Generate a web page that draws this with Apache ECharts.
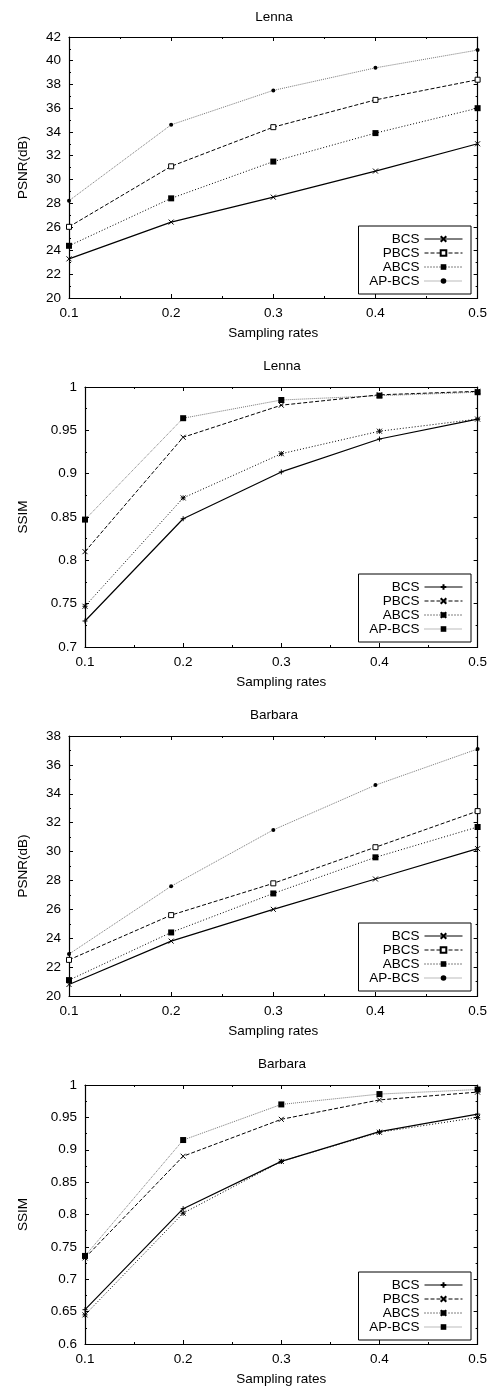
<!DOCTYPE html>
<html>
<head>
<meta charset="utf-8">
<script src="https://cdn.jsdelivr.net/npm/echarts@6/dist/echarts.min.js"></script>
<style>
html,body{margin:0;padding:0;background:#fff;}
#c{width:490px;height:1387px;}
</style>
</head>
<body>
<div id="c"></div>
<script>
// ---- data ----
const rates = [0.1, 0.2, 0.3, 0.4, 0.5];
const seriesNames = ['BCS', 'PBCS', 'ABCS', 'AP-BCS'];
const panelTitles = ['Lenna', 'Lenna', 'Barbara', 'Barbara'];
const yAxisNames = ['PSNR(dB)', 'SSIM', 'PSNR(dB)', 'SSIM'];
const xAxisName = 'Sampling rates';

const lennaPsnrBCS   = [23.3, 26.4, 28.5, 30.7, 33.0];
const lennaPsnrPBCS  = [26.0, 31.1, 34.4, 36.7, 38.4];
const lennaPsnrABCS  = [24.4, 28.4, 31.5, 33.9, 36.0];
const lennaPsnrAPBCS = [28.2, 34.6, 37.5, 39.4, 40.9];

const lennaSsimBCS   = [0.730, 0.848, 0.902, 0.940, 0.963];
const lennaSsimPBCS  = [0.810, 0.942, 0.979, 0.991, 0.995];
const lennaSsimABCS  = [0.747, 0.872, 0.923, 0.949, 0.963];
const lennaSsimAPBCS = [0.847, 0.964, 0.985, 0.990, 0.994];

const barbaraPsnrBCS   = [20.8, 23.8, 26.0, 28.1, 30.2];
const barbaraPsnrPBCS  = [22.5, 25.6, 27.8, 30.3, 32.8];
const barbaraPsnrABCS  = [21.1, 24.4, 27.1, 29.6, 31.7];
const barbaraPsnrAPBCS = [22.9, 27.6, 31.5, 34.6, 37.1];

const barbaraSsimBCS   = [0.653, 0.809, 0.882, 0.928, 0.955];
const barbaraSsimPBCS  = [0.733, 0.890, 0.947, 0.977, 0.989];
const barbaraSsimABCS  = [0.645, 0.802, 0.882, 0.927, 0.950];
const barbaraSsimAPBCS = [0.736, 0.915, 0.970, 0.986, 0.993];

const yMins = [20, 0.7, 20, 0.6];
const yMaxs = [42, 1, 38, 1];
const yIntervals = [2, 0.05, 2, 0.05];

const panelValues = [
  [lennaPsnrBCS, lennaPsnrPBCS, lennaPsnrABCS, lennaPsnrAPBCS],
  [lennaSsimBCS, lennaSsimPBCS, lennaSsimABCS, lennaSsimAPBCS],
  [barbaraPsnrBCS, barbaraPsnrPBCS, barbaraPsnrABCS, barbaraPsnrAPBCS],
  [barbaraSsimBCS, barbaraSsimPBCS, barbaraSsimABCS, barbaraSsimAPBCS]
];

// ---- styling ----
const FONT = '"Liberation Sans", Arial, Helvetica, sans-serif';
const grids = [
  {left: 69, top: 37, width: 410, height: 261},
  {left: 85, top: 387, width: 394, height: 260},
  {left: 69, top: 736, width: 410, height: 260},
  {left: 85, top: 1085, width: 394, height: 261}
];
const legendTops = [226, 574, 923, 1272];
const titleCenters = [17, 366, 715, 1064];

const SYM_X = 'path://M0,0L10,10M10,0L0,10';
const SYM_PLUS = 'path://M5,0L5,10M0,5L10,5';
const SYM_STAR = 'path://M0,0L10,10M10,0L0,10M5,0L5,10M0,5L10,5';

const lineStyles = [
  {color: '#000', width: 1.2, type: 'solid'},
  {color: '#000', width: 1, type: [4, 2]},
  {color: '#000', width: 1, type: [1, 2]},
  {color: '#777', width: 1, type: [1, 1]}
];
// symbols for PSNR panels and SSIM panels
const psnrSymbols = [
  {symbol: SYM_X, size: 5, itemStyle: {color: 'rgba(0,0,0,0)', borderColor: '#000', borderWidth: 1}},
  {symbol: 'rect', size: 5, itemStyle: {color: '#fff', borderColor: '#000', borderWidth: 1}},
  {symbol: 'rect', size: 6, itemStyle: {color: '#000', borderColor: '#000', borderWidth: 0}},
  {symbol: 'circle', size: 4, itemStyle: {color: '#000', borderColor: '#000', borderWidth: 0}}
];
const ssimSymbols = [
  {symbol: SYM_PLUS, size: 5, itemStyle: {color: 'rgba(0,0,0,0)', borderColor: '#000', borderWidth: 1}},
  {symbol: SYM_X, size: 5, itemStyle: {color: 'rgba(0,0,0,0)', borderColor: '#000', borderWidth: 1}},
  {symbol: SYM_STAR, size: 5, itemStyle: {color: 'rgba(0,0,0,0)', borderColor: '#000', borderWidth: 1}},
  {symbol: 'rect', size: 6, itemStyle: {color: '#000', borderColor: '#000', borderWidth: 0}}
];

const axisLine = {show: true, onZero: false, lineStyle: {color: '#000', width: 1.2}};
const axisTick = {show: true, inside: true, length: 4, lineStyle: {color: '#000', width: 1}};
const minorTick = {show: true, splitNumber: 2, length: 2, lineStyle: {color: '#000', width: 1}};

const option = {
  animation: false,
  backgroundColor: '#fff',
  title: [], grid: [], xAxis: [], yAxis: [], legend: [], series: []
};

for (let p = 0; p < 4; p++) {
  const g = grids[p];
  option.grid.push({left: g.left, top: g.top, width: g.width, height: g.height, containLabel: false});
  option.title.push({
    text: panelTitles[p], left: g.left + g.width / 2, top: titleCenters[p] - 7,
    textAlign: 'center', padding: 0,
    textStyle: {fontFamily: FONT, fontSize: 13.5, fontWeight: 'normal', color: '#000'}
  });
  const lbl = {color: '#000', fontFamily: FONT, fontSize: 13.5};
  // bottom x axis
  option.xAxis.push({
    type: 'value', gridIndex: p, position: 'bottom', min: 0.1, max: 0.5, interval: 0.1,
    name: xAxisName, nameLocation: 'middle', nameGap: 28,
    nameTextStyle: {color: '#000', fontFamily: FONT, fontSize: 13.5},
    axisLine, axisTick, minorTick, splitLine: {show: false}, minorSplitLine: {show: false},
    axisLabel: Object.assign({margin: 8}, lbl)
  });
  // top mirror
  option.xAxis.push({
    type: 'value', gridIndex: p, position: 'top', min: 0.1, max: 0.5, interval: 0.1,
    axisLine, axisTick, minorTick, splitLine: {show: false}, axisLabel: {show: false}
  });
  option.yAxis.push({
    type: 'value', gridIndex: p, position: 'left', min: yMins[p], max: yMaxs[p], interval: yIntervals[p],
    name: yAxisNames[p], nameLocation: 'middle', nameGap: g.left - 22 - 8, nameRotate: 90,
    nameTextStyle: {color: '#000', fontFamily: FONT, fontSize: 13.5},
    axisLine, axisTick, minorTick, splitLine: {show: false},
    axisLabel: Object.assign({margin: 8}, lbl)
  });
  option.yAxis.push({
    type: 'value', gridIndex: p, position: 'right', min: yMins[p], max: yMaxs[p], interval: yIntervals[p],
    axisLine, axisTick, minorTick, splitLine: {show: false}, axisLabel: {show: false}
  });
  const syms = (p % 2 === 0) ? psnrSymbols : ssimSymbols;
  const names = [];
  for (let s = 0; s < 4; s++) {
    const nm = seriesNames[s] + '#' + p;
    names.push(nm);
    option.series.push({
      name: nm, type: 'line', xAxisIndex: 2 * p, yAxisIndex: 2 * p,
      data: rates.map((r, i) => [r, panelValues[p][s][i]]),
      symbol: syms[s].symbol, symbolSize: syms[s].size, showSymbol: true,
      itemStyle: syms[s].itemStyle,
      lineStyle: lineStyles[s],
      emphasis: {disabled: true},
      z: 10 - s
    });
  }
  option.legend.push({
    data: names, orient: 'vertical', right: 19, top: legendTops[p],
    align: 'right', itemWidth: 38, itemHeight: 7, itemGap: 0,
    padding: [6, 8, 6, 5],
    borderColor: '#000', borderWidth: 1, backgroundColor: '#fff',
    selectedMode: false,
    lineStyle: {width: 1},
    formatter: function (n) { return n.split('#')[0]; },
    textStyle: {color: '#000', fontFamily: FONT, fontSize: 13.5, width: 56, align: 'right', lineHeight: 14, height: 14}
  });
}

const chart = echarts.init(document.getElementById('c'), null, {renderer: 'canvas'});
chart.setOption(option);
</script>
</body>
</html>
